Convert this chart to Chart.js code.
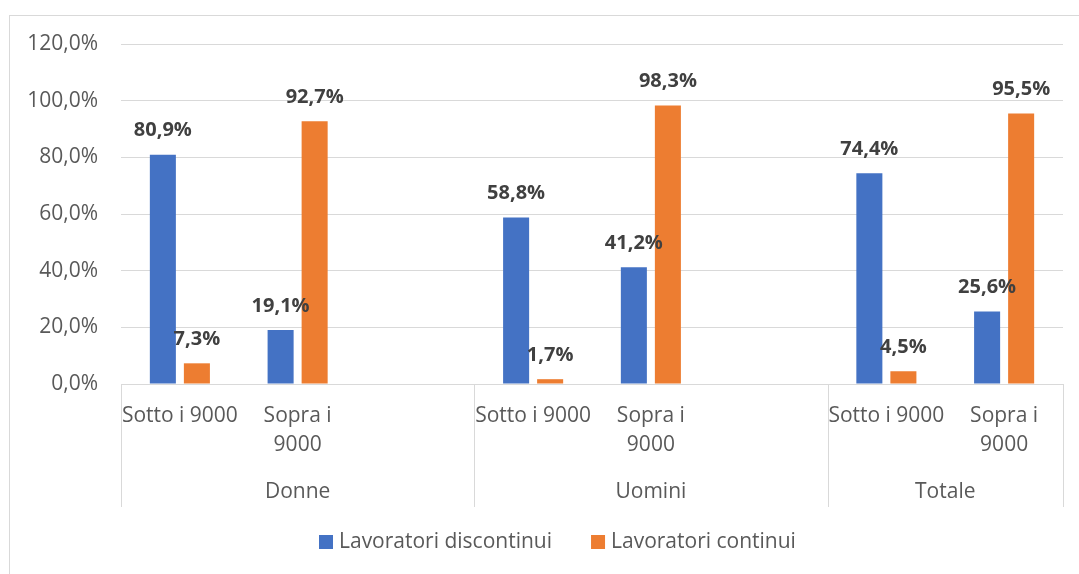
<!DOCTYPE html>
<html>
<head>
<meta charset="utf-8">
<script src="https://cdn.jsdelivr.net/npm/chart.js@4.4.1/dist/chart.umd.min.js"></script>
<style>
  html, body { margin: 0; padding: 0; background: #fff; }
  #wrap { width: 1079px; height: 574px; position: relative; }
</style>
</head>
<body>
<div id="wrap"><canvas id="grafico" width="1079" height="574"></canvas></div>
<script>
// categorie (slot vuoti tra i gruppi come nel grafico Excel)
const fasce = [['Sotto i 9000'], ['Sopra i', '9000'], [''], ['Sotto i 9000'], ['Sopra i', '9000'], [''], ['Sotto i 9000'], ['Sopra i', '9000']];
const gruppi = ['Donne', 'Uomini', 'Totale'];
const gruppiInizio = [0, 3, 6];
const gruppiFine = [3, 6, 8];

const discontinui = [80.9, 19.1, null, 58.8, 41.2, null, 74.4, 25.6];
const continui = [7.3, 92.7, null, 1.7, 98.3, null, 4.5, 95.5];
const serie = ['Lavoratori discontinui', 'Lavoratori continui'];
const colori = ['#4472C4', '#ED7D31'];

const yMax = 120;
const yStep = 20;

const FONT = '"Open Sans", "Liberation Sans", sans-serif';
const GRIGIO = '#595959';
const LINEE = '#d9d9d9';

const pct = v => v.toFixed(1).replace('.', ',') + '%';

const extraPlugin = {
    id: 'extra',
    beforeDraw(chart) {
        const ctx = chart.ctx;
        ctx.save();
        ctx.fillStyle = '#fff';
        ctx.fillRect(0, 0, chart.width, chart.height);
        ctx.strokeStyle = LINEE;
        ctx.lineWidth = 1;
        ctx.strokeRect(9.5, 15.5, chart.width + 20, chart.height + 20);
        ctx.restore();
    },
    afterDraw(chart) {
        const ctx = chart.ctx;
        const x = chart.scales.x;
        const area = chart.chartArea;
        const slot = (area.right - area.left) / fasce.length;
        ctx.save();

        // divisori asse multilivello
        ctx.strokeStyle = LINEE;
        ctx.lineWidth = 1;
        const bordi = [gruppiInizio[0]].concat(gruppiFine);
        bordi.forEach(i => {
            const px = Math.round(area.left + i * slot) + 0.5;
            ctx.beginPath();
            ctx.moveTo(px, area.bottom);
            ctx.lineTo(px, area.bottom + 123);
            ctx.stroke();
        });

        // etichette fasce
        ctx.fillStyle = GRIGIO;
        ctx.font = '21px ' + FONT;
        ctx.textAlign = 'center';
        ctx.textBaseline = 'middle';
        fasce.forEach((righe, i) => {
            const px = x.getPixelForValue(i);
            righe.forEach((r, k) => ctx.fillText(r, px, area.bottom + 32 + k * 29));
        });

        // etichette gruppi
        gruppi.forEach((g, i) => {
            const a = area.left + gruppiInizio[i] * slot;
            const b = area.left + gruppiFine[i] * slot;
            ctx.fillText(g, (a + b) / 2, area.bottom + 108);
        });

        // etichette dati
        ctx.fillStyle = '#404040';
        ctx.font = 'bold 20px ' + FONT;
        chart.data.datasets.forEach((ds, di) => {
            const meta = chart.getDatasetMeta(di);
            meta.data.forEach((el, i) => {
                const v = ds.data[i];
                if (v === null) return;
                ctx.fillText(pct(v), el.x, el.y - 24);
            });
        });

        // legenda
        ctx.font = '21px ' + FONT;
        ctx.textAlign = 'left';
        let lx = 319;
        const ly = 542;
        serie.forEach((s, i) => {
            ctx.fillStyle = colori[i];
            ctx.fillRect(lx, ly - 7, 14, 14);
            ctx.fillStyle = GRIGIO;
            ctx.fillText(s, lx + 20, ly);
            lx += 20 + ctx.measureText(s).width + 39;
        });

        ctx.restore();
    }
};

new Chart(document.getElementById('grafico'), {
    type: 'bar',
    data: {
        labels: fasce,
        datasets: [
            { label: serie[0], data: discontinui, backgroundColor: colori[0] },
            { label: serie[1], data: continui, backgroundColor: colori[1] }
        ]
    },
    options: {
        responsive: false,
        animation: false,
        devicePixelRatio: 1,
        categoryPercentage: 0.578,
        barPercentage: 0.765,
        layout: { padding: { left: 0, top: 44, right: 16, bottom: 190 } },
        plugins: { legend: { display: false }, tooltip: { enabled: false } },
        scales: {
            x: {
                grid: { display: false },
                ticks: { display: false },
                border: { display: true, color: LINEE, width: 1 },
                afterFit: s => { s.height = 0; }
            },
            y: {
                min: 0, max: yMax,
                ticks: {
                    stepSize: yStep,
                    padding: 23,
                    color: GRIGIO,
                    font: { family: FONT, size: 21 },
                    callback: v => pct(v)
                },
                grid: { color: LINEE, lineWidth: 1, drawTicks: false },
                border: { display: false },
                afterFit: s => { s.width = 121; }
            }
        }
    },
    plugins: [extraPlugin]
});
</script>
</body>
</html>
